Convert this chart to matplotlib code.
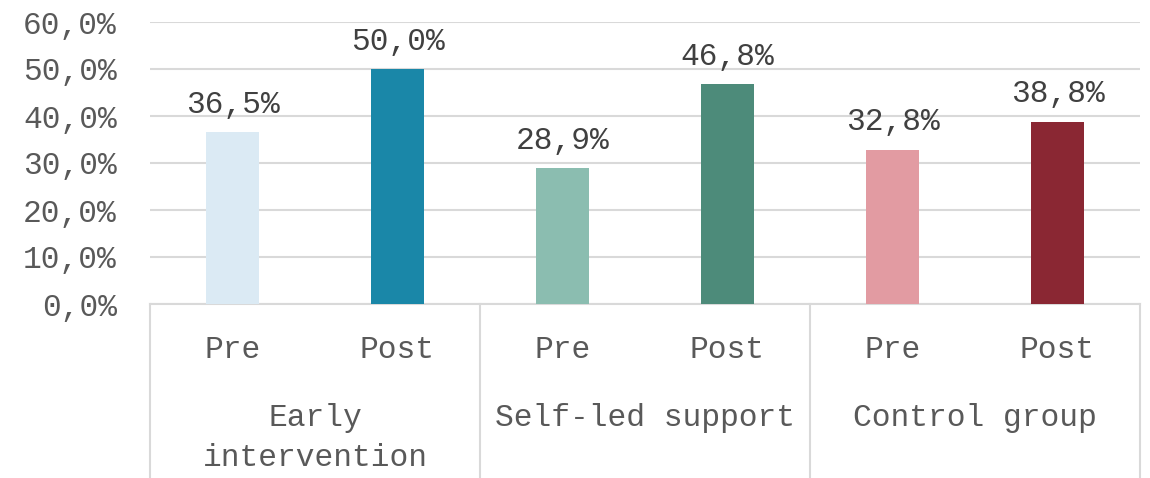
import matplotlib.pyplot as plt
from matplotlib.ticker import FuncFormatter

plt.rcParams['font.family'] = ['Liberation Mono', 'DejaVu Sans Mono']

groups = ["Early\nintervention", "Self-led support", "Control group"]
phases = ["Pre", "Post"]
values = [36.5, 50.0, 28.9, 46.8, 32.8, 38.8]
colors = ["#dbeaf4", "#1a87a8", "#8bbdb0", "#4d8b7a", "#e29ba2", "#8a2733"]

W, H = 1150, 478
FS = 22.5
fig = plt.figure(figsize=(W / 100, H / 100), dpi=100)
ax = fig.add_axes([150 / W, 174 / H, 990 / W, 282 / H])

txt = "#595959"
grid = "#d9d9d9"

xs = [i + 0.5 for i in range(len(values))]
ax.bar(xs, values, width=0.32, color=colors, zorder=3)
for x, v in zip(xs, values):
    ax.annotate(f"{v:.1f}%".replace(".", ","), (x, v), xytext=(0, 9),
                textcoords="offset points", ha="center", va="bottom",
                fontsize=FS, color="#404040")

ax.set_xlim(0, len(values))
ax.set_ylim(0, 60)
ax.set_yticks(range(0, 61, 10))
ax.yaxis.set_major_formatter(FuncFormatter(lambda v, p: f"{v:.1f}%".replace(".", ",")))
ax.tick_params(axis="y", length=0, pad=24, labelsize=FS, labelcolor=txt)
ax.set_xticks([])
ax.grid(axis="y", color=grid, lw=1.5, zorder=0)
for s in ["left", "right", "top"]:
    ax.spines[s].set_visible(False)
ax.spines["bottom"].set_color(grid)
ax.spines["bottom"].set_linewidth(1.5)

# two-level category axis below the plot
xt = ax.get_xaxis_transform()
depth = -174 / 282
for b in range(0, len(values) + 1, 2):
    ax.plot([b, b], [0, depth], transform=xt, color=grid, lw=1.5, clip_on=False)
for i, x in enumerate(xs):
    ax.text(x, -46 / 282, phases[i % 2], transform=xt, ha="center", va="center",
            fontsize=FS, color=txt)
for g, name in enumerate(groups):
    ax.text(2 * g + 1, -99 / 282, name, transform=xt, ha="center", va="top",
            fontsize=FS, color=txt, linespacing=1.45)

fig.savefig("out.png", dpi=100)
